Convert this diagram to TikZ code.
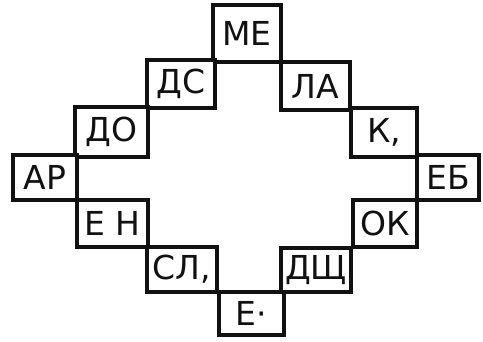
\documentclass[tikz,border=0pt]{standalone}
\usepackage{fontspec}
\setmainfont{DejaVu Sans}
\usetikzlibrary{positioning}
\definecolor{pen}{HTML}{111111}
\tikzset{
  cell/.style={rectangle,draw=pen,line width=4.4pt,fill=white,inner sep=0pt,
               align=center,font=\fontsize{33}{33}\selectfont,text=pen},
}

\begin{document}
\begin{tikzpicture}[x=1pt,y=-1pt]
\useasboundingbox (0,0) rectangle (483,342);
% top half
\node[cell,minimum width=68pt,minimum height=57pt] (me) at (247,33.5) {МЕ};
\node[cell,minimum width=68pt,minimum height=48pt] (ds) at (181,84) {ДС};
\node[cell,minimum width=69pt,minimum height=48pt] (la) at (315.5,86) {ЛА};
\node[cell,minimum width=73pt,minimum height=50pt] (do) at (111.5,132) {ДО};
\node[cell,minimum width=66pt,minimum height=49pt] (k) at (384,132.5) {К,};
% middle row
\node[cell,minimum width=64pt,minimum height=45pt] (ar) at (45,177.5) {АР};
\node[cell,minimum width=62pt,minimum height=45pt] (eb) at (448,177.5) {ЕБ};
% bottom half
\node[cell,minimum width=71pt,minimum height=47pt] (en) at (112.5,223.5) {Е Н};
\node[cell,minimum width=64pt,minimum height=47pt] (ok) at (385,223.5) {ОК};
\node[cell,minimum width=70pt,minimum height=45pt] (sl) at (182,269.5) {СЛ,};
\node[cell,minimum width=70pt,minimum height=44pt] (dsh) at (316,270) {ДЩ};
\node[cell,minimum width=65pt,minimum height=43pt] (e) at (251.5,313.5) {Е·};
\end{tikzpicture}
\end{document}
